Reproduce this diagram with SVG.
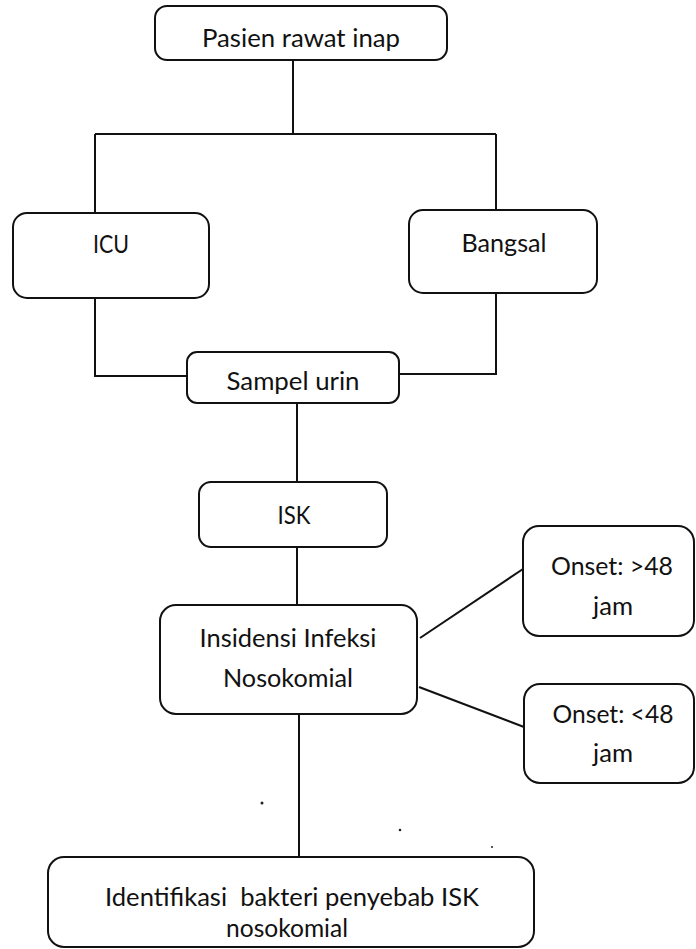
<svg xmlns="http://www.w3.org/2000/svg" width="696" height="949" viewBox="0 0 696 949">
<style>
.box{fill:#fff;stroke:#111;stroke-width:2}
.ln{fill:none;stroke:#111;stroke-width:2}
text{font-family:Lato,"Open Sans","Liberation Sans",sans-serif;font-size:25px;fill:#111;text-anchor:middle;white-space:pre}
</style>
<rect width="696" height="949" fill="#fff"/>
<g id="connectors">
<path class="ln" d="M293,60 V134"/>
<path class="ln" d="M95,134 H496"/>
<path class="ln" d="M95,134 V213"/>
<path class="ln" d="M496,134 V210"/>
<path class="ln" d="M95,298 V376 H187"/>
<path class="ln" d="M496,293 V374 H399"/>
<path class="ln" d="M297,403 V482"/>
<path class="ln" d="M297,547 V605"/>
<path class="ln" d="M420,638 L523,569"/>
<path class="ln" d="M419,687 L524,727"/>
<path class="ln" d="M299,714 V857"/>
</g>
<g id="pasien"><rect class="box" x="155" y="6" width="292" height="54" rx="12"/><text x="301" y="47" textLength="198" lengthAdjust="spacingAndGlyphs">Pasien rawat inap</text></g>
<g id="icu"><rect class="box" x="13" y="213" width="196" height="85" rx="14"/><text x="111" y="253" textLength="36" lengthAdjust="spacingAndGlyphs">ICU</text></g>
<g id="bangsal"><rect class="box" x="409" y="210" width="188" height="83" rx="14"/><text x="504" y="252" textLength="85" lengthAdjust="spacingAndGlyphs">Bangsal</text></g>
<g id="sampel"><rect class="box" x="187" y="352" width="212" height="51" rx="10"/><text x="293" y="390" textLength="133" lengthAdjust="spacingAndGlyphs">Sampel urin</text></g>
<g id="isk"><rect class="box" x="199" y="482" width="188" height="65" rx="12"/><text x="294" y="524" textLength="33" lengthAdjust="spacingAndGlyphs">ISK</text></g>
<g id="insidensi"><rect class="box" x="160" y="605" width="257" height="109" rx="16"/><text x="288" y="647" textLength="177" lengthAdjust="spacingAndGlyphs">Insidensi Infeksi</text><text x="288" y="687" textLength="130" lengthAdjust="spacingAndGlyphs">Nosokomial</text></g>
<g id="onset-gt"><rect class="box" x="523" y="526" width="171" height="110" rx="16"/><text x="612" y="575" textLength="122" lengthAdjust="spacingAndGlyphs">Onset: &gt;48</text><text x="613" y="615" textLength="40" lengthAdjust="spacingAndGlyphs">jam</text></g>
<g id="onset-lt"><rect class="box" x="524" y="684" width="170" height="99" rx="16"/><text x="613" y="723" textLength="121" lengthAdjust="spacingAndGlyphs">Onset: &lt;48</text><text x="613" y="762" textLength="40" lengthAdjust="spacingAndGlyphs">jam</text></g>
<g id="identifikasi"><rect class="box" x="48" y="857" width="486" height="90" rx="16"/><text x="292" y="906" textLength="374" lengthAdjust="spacingAndGlyphs" xml:space="preserve">Identifikasi  bakteri penyebab ISK</text><text x="287" y="937" textLength="122" lengthAdjust="spacingAndGlyphs">nosokomial</text></g>
<g id="specks" fill="#222"><circle cx="262" cy="803" r="1.5"/><circle cx="400" cy="830" r="1.3"/><circle cx="492" cy="847" r="1"/></g>
</svg>
